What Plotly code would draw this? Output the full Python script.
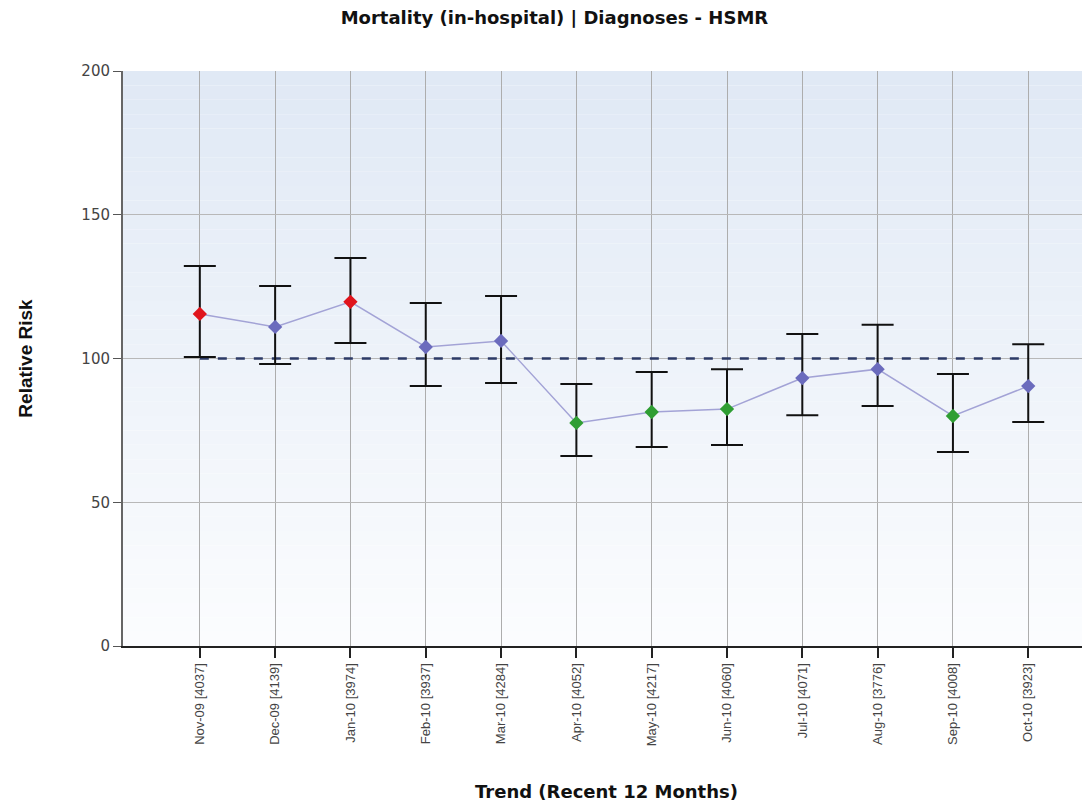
import plotly.graph_objects as go

months = ["Nov-09 [4037]", "Dec-09 [4139]", "Jan-10 [3974]", "Feb-10 [3937]",
          "Mar-10 [4284]", "Apr-10 [4052]", "May-10 [4217]", "Jun-10 [4060]",
          "Jul-10 [4071]", "Aug-10 [3776]", "Sep-10 [4008]", "Oct-10 [3923]"]
relative_risk = [115.5, 111.0, 119.7, 104.0, 106.1, 77.6, 81.4, 82.4, 93.2, 96.3, 80.0, 90.4]
upper_ci = [132.2, 125.2, 135.0, 119.3, 121.7, 91.1, 95.3, 96.3, 108.5, 111.7, 94.6, 105.0]
lower_ci = [100.5, 98.1, 105.4, 90.4, 91.5, 66.1, 69.2, 69.9, 80.3, 83.5, 67.5, 77.9]
benchmark = [100] * len(months)
y_ticks = [0, 50, 100, 150, 200]

status_colors = {"high": "#e0141c", "normal": "#6b6bbd", "low": "#2f9e33"}
marker_colors = []
for lo, hi in zip(lower_ci, upper_ci):
    if lo > 100:
        marker_colors.append(status_colors["high"])
    elif hi < 100:
        marker_colors.append(status_colors["low"])
    else:
        marker_colors.append(status_colors["normal"])

err_plus = [h - v for h, v in zip(upper_ci, relative_risk)]
err_minus = [v - l for v, l in zip(relative_risk, lower_ci)]

fig = go.Figure()

# background gradient bands (paper coords)
n_bands = 40
top = (224, 233, 245)
bottom = (251, 252, 254)
for i in range(n_bands):
    t = i / (n_bands - 1)
    c = tuple(int(round(top[k] + (bottom[k] - top[k]) * t)) for k in range(3))
    y1 = 1 - i / n_bands
    y0 = 1 - (i + 1) / n_bands
    fig.add_shape(type="rect", xref="paper", yref="paper", x0=0, x1=1, y0=y0, y1=y1,
                  fillcolor="rgb(%d,%d,%d)" % c, line=dict(width=0), layer="below")

fig.add_trace(go.Scatter(
    x=months, y=relative_risk, mode="lines",
    line=dict(color="#a3a3d6", width=1.5), hoverinfo="skip", showlegend=False))

fig.add_trace(go.Scatter(
    x=months, y=benchmark, mode="lines",
    line=dict(color="#2c3a66", width=2.5, dash="dash"), showlegend=False))

fig.add_trace(go.Scatter(
    x=months, y=relative_risk, mode="markers",
    marker=dict(symbol="diamond", size=11, color=marker_colors, line=dict(width=0)),
    error_y=dict(type="data", array=err_plus, arrayminus=err_minus, visible=True,
                 color="#111111", thickness=2, width=16),
    showlegend=False))

fig.update_layout(
    width=1082, height=797,
    margin=dict(l=115, r=0, t=63, b=159),
    paper_bgcolor="white",
    plot_bgcolor="rgba(0,0,0,0)",
    title=dict(text="<b>Mortality (in-hospital) | Diagnoses - HSMR</b>",
               x=0.505, xref="container", y=0.988, yref="container",
               xanchor="center", yanchor="middle",
               font=dict(family="Verdana, DejaVu Sans, sans-serif", size=18, color="#111111")),
    xaxis=dict(
        range=[-1.02, 11.82], tickangle=-90,
        tickfont=dict(family="Liberation Sans Narrow, Arial Narrow, sans-serif", size=13, color="#444444"),
        ticks="outside", ticklen=10, tickwidth=2, tickcolor="#222222",
        showgrid=True, gridcolor="#adadad", gridwidth=1,
        showline=True, linecolor="#222222", linewidth=2,
        title=dict(text="<b>Trend (Recent 12 Months)</b>", standoff=40,
                   font=dict(family="Verdana, DejaVu Sans, sans-serif", size=18, color="#111111")),
    ),
    yaxis=dict(
        range=[0, 200], tickvals=y_ticks,
        tickfont=dict(family="Verdana, DejaVu Sans, sans-serif", size=15, color="#444444"),
        ticks="outside", ticklen=8, tickwidth=1, tickcolor="#555555",
        showgrid=True, gridcolor="#b8b8b8", gridwidth=1,
        showline=True, linecolor="#666666", linewidth=2,
        zeroline=False,
        title=dict(text="<b>Relative Risk</b>", standoff=44,
                   font=dict(family="Liberation Sans Narrow, Arial Narrow, sans-serif", size=19, color="#111111")),
    ),
)

fig.write_html("out.html")
